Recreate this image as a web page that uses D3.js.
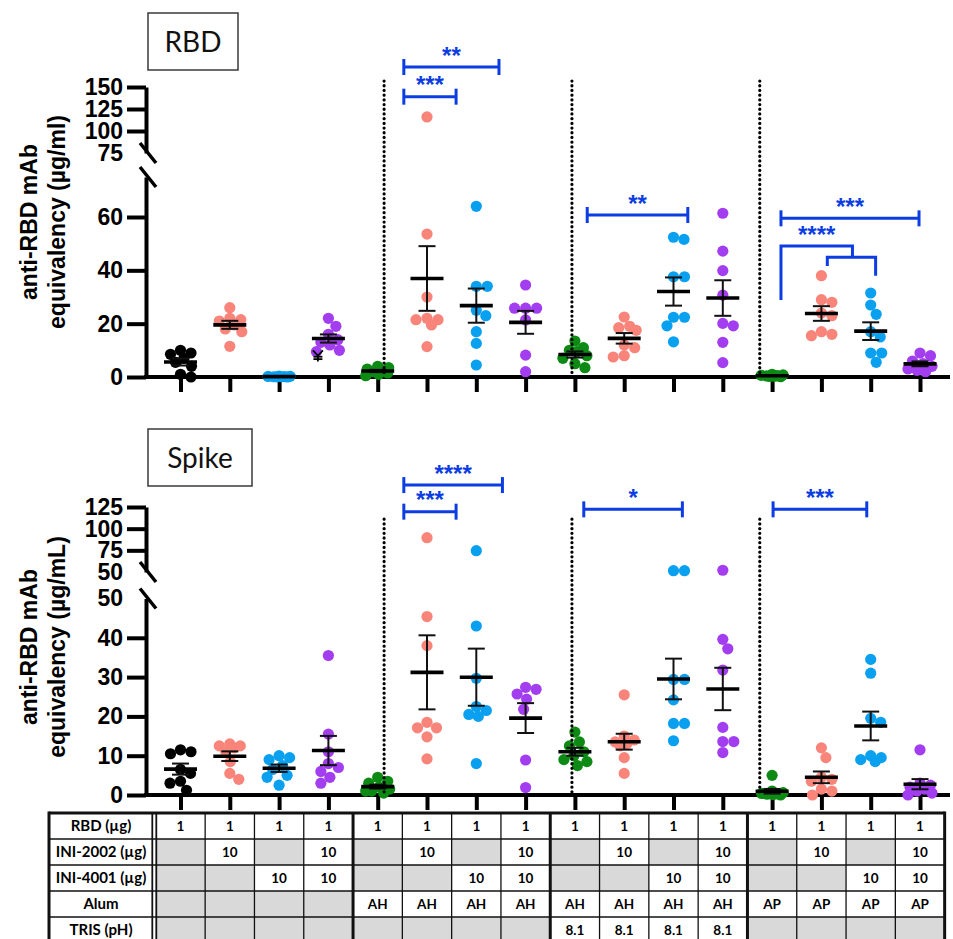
<!DOCTYPE html>
<html>
<head>
<meta charset="utf-8">
<script src="https://cdn.jsdelivr.net/npm/d3@7"></script>
<style>
  body { margin: 0; background: #fff; }
  svg { display: block; }
</style>
</head>
<body>
<svg id="chart" width="953" height="939"></svg>
<script>
// ---------------- data ----------------
// formulation table (one entry per group, left to right)
const rowLabels = ["RBD (µg)", "INI-2002 (µg)", "INI-4001 (µg)", "Alum", "TRIS (pH)"];
const rbdDose   = ["1","1","1","1","1","1","1","1","1","1","1","1","1","1","1","1"];
const ini2002   = ["","10","","10","","10","","10","","10","","10","","10","","10"];
const ini4001   = ["","","10","10","","","10","10","","","10","10","","","10","10"];
const alum      = ["","","","","AH","AH","AH","AH","AH","AH","AH","AH","AP","AP","AP","AP"];
const tris      = ["","","","","","","","","8.1","8.1","8.1","8.1","","","",""];

// anti-RBD mAb equivalency (µg/ml), RBD-coated plates
const rbdResponse = [
  [10, 9, 8.5, 7, 5.5, 4, 1, 0],
  [26, 22, 21.5, 21, 19.5, 18, 17, 11.5],
  [0.3, 0.25, 0.2, 0.15, 0.1, 0.1, 0.05, 0],
  [22, 19, 16, 14, 13, 12, 10, 9.5],
  [4, 3.5, 3, 2.5, 2, 1.5, 1, 0.5],
  [116, 53.6, 30, 22, 21.5, 21.5, 19.5, 11.4],
  [64, 34, 34, 25, 23, 17, 12.6, 4.5],
  [34.5, 25.8, 25.8, 25.8, 21.4, 8.2, 2],
  [13.5, 11, 10, 9.5, 8, 7, 5, 3.5],
  [22.5, 19, 18.5, 17.5, 12, 11, 8, 7.5],
  [52.4, 51.6, 37.6, 37.6, 22.4, 22.4, 19.2, 13.2],
  [61.4, 47.2, 39.9, 30.7, 20.1, 19.2, 13, 5.4],
  [1, 0.8, 0.6, 0.5, 0.4, 0.3, 0.2, 0.1],
  [38, 29, 28, 24, 23, 17, 16, 15.5],
  [31.5, 27, 23.5, 17, 15, 9, 9, 5.5],
  [9, 8, 6, 5, 4, 3, 2.5, 2]
];

// anti-RBD mAb equivalency (µg/mL), Spike-coated plates
const spikeResponse = [
  [11.5, 11, 10.5, 6.5, 5.5, 3.5, 3, 1.2],
  [13, 12.5, 12.5, 12, 11, 8.5, 5.5, 4],
  [10, 9.5, 9, 7.5, 6.5, 5, 4.5, 2.5],
  [35.5, 15.5, 11, 8, 7, 6, 4.5, 3],
  [4.5, 3.5, 3, 2, 1.5, 1, 1, 0.5],
  [89.6, 45.4, 38, 18.5, 17.1, 17.1, 14.8, 9.2],
  [74.6, 43, 29.7, 22.5, 21.5, 20.5, 20, 8],
  [27.4, 26.9, 25.7, 24.4, 21.8, 8.9, 1.9],
  [16, 13.5, 12.5, 11, 10, 9, 8.5, 7.5],
  [25.5, 15, 14, 13.5, 13, 12.5, 9.5, 5.5],
  [51.5, 51.5, 29.4, 29.4, 24.2, 18.2, 18.2, 13.8],
  [52, 39.6, 37.2, 31.8, 17.2, 13.6, 13.6, 10.8],
  [5, 1, 0.6, 0.4, 0.3, 0.2, 0.1, 0],
  [12, 9.5, 4.5, 4, 3.5, 1.5, 1, 0],
  [34.5, 31, 19.5, 18.5, 10, 9.5, 9, 8.5],
  [11.5, 3, 2.5, 2, 1.5, 1, 0.5, 0]
];

// axis ticks (lower / upper segment of the broken axis)
const rbdTicksLow = [0, 20, 40, 60];
const rbdTicksHigh = [75, 100, 125, 150];
const spikeTicksLow = [0, 10, 20, 30, 40, 50];
const spikeTicksHigh = [50, 75, 100, 125];

// significance brackets: group-position span, height in axis units, label
const rbdSig = [
  { from: 4.53, to: 5.59, at: 139, label: "***" },
  { from: 4.53, to: 6.46, at: 172.7, label: "**" },
  { from: 8.25, to: 10.29, at: 60.75, label: "**" },
  { from: 12.18, to: 14.98, at: 59.5, label: "***" }
];
const rbdElbow = { from: 12.18, base: 28.9, at: 49.1, join: 13.63,
                   subFrom: 13.12, subTo: 14.1, subAt: 44.9, subEnds: [41.6, 38], label: "****" };
const spikeSig = [
  { from: 4.53, to: 5.59, at: 119.6, label: "***" },
  { from: 4.53, to: 6.53, at: 150.3, label: "****" },
  { from: 8.18, to: 10.18, at: 122.3, label: "*" },
  { from: 12.02, to: 13.92, at: 122.3, label: "***" }
];
// group separators (dotted), in group-position units
const separators = [4.13, 7.94, 11.75];

// ---------------- drawing ----------------
const svg = d3.select("#chart");
const nGroups = rbdDose.length;
const FONT = "'Liberation Sans', Arial, sans-serif";
const TFONT = "Lato, 'Open Sans', sans-serif";
const SIG_BLUE = "#0b3de2";

const palette = { none: "#000000", alum: "#0c8a14", a: "#f8847a", b: "#0aa0f0", ab: "#a33ef0" };
const groupColor = d3.range(nGroups).map(i => {
  const a = ini2002[i] !== "", b = ini4001[i] !== "";
  if (a && b) return palette.ab;
  if (a) return palette.a;
  if (b) return palette.b;
  return alum[i] !== "" ? palette.alum : palette.none;
});

const x = d3.scaleLinear().domain([0, nGroups - 1]).range([180.5, 920]);
const AXIS_X = 146;
const R = 5.6;

function brokenScale(low, high) {
  return v => (v <= low.domain()[1] ? low(v) : high(v));
}

// simple beeswarm: spread points sideways where they would overlap
function swarm(vals, yOf, maxOff) {
  const placed = [];
  const D = 2 * R * 0.95;
  const cands = [0];
  for (let k = 0.5; k <= maxOff; k += 0.5) cands.push(k, -k);
  vals.slice().sort((a, b) => b - a).forEach(v => {
    const y = yOf(v);
    let best = 0, bestScore = -Infinity;
    for (const dx of cands) {
      let m = Infinity;
      for (const p of placed) m = Math.min(m, Math.hypot(p.dx - dx, p.y - y));
      if (m >= D) { best = dx; break; }
      if (m > bestScore) { bestScore = m; best = dx; }
    }
    placed.push({ v, y, dx: best });
  });
  return placed;
}

function drawPanel(cfg) {
  const g = svg.append("g");
  const yLow = d3.scaleLinear().domain(cfg.lowDomain).range(cfg.lowRange);
  const yHigh = d3.scaleLinear().domain(cfg.highDomain).range(cfg.highRange);
  const y = brokenScale(yLow, yHigh);
  const baseY = yLow(0);

  // title box
  const tb = g.append("g");
  tb.append("rect").attr("x", cfg.box[0]).attr("y", cfg.box[1])
    .attr("width", cfg.box[2]).attr("height", cfg.box[3])
    .attr("fill", "#fff").attr("stroke", "#3a3a3a").attr("stroke-width", 1.5);
  tb.append("text").attr("x", cfg.box[0] + cfg.box[2] / 2).attr("y", cfg.box[1] + cfg.box[3] / 2)
    .attr("dy", "0.36em").attr("text-anchor", "middle")
    .attr("font-family", TFONT).attr("font-size", 28).attr("fill", "#111").text(cfg.title);

  // y-axis title
  const yt = g.append("text").attr("transform", `translate(0,${cfg.labelCenter}) rotate(-90)`)
    .attr("text-anchor", "middle").attr("font-family", FONT).attr("font-weight", "bold")
    .attr("font-size", 23).attr("fill", "#000");
  yt.append("tspan").attr("x", 0).attr("y", 37).text("anti-RBD mAb");
  yt.append("tspan").attr("x", 0).attr("y", 65).text(cfg.unitLine);

  // y axes (two segments)
  function yAxis(scale, ticks, bare) {
    const ax = g.append("g").attr("transform", `translate(${AXIS_X},0)`)
      .call(d3.axisLeft(scale).tickValues(ticks).tickSize(19).tickSizeOuter(0).tickPadding(4)
        .tickFormat(d3.format("d")));
    ax.select(".domain").attr("stroke", "#000").attr("stroke-width", 4);
    ax.selectAll(".tick line").attr("stroke", "#000").attr("stroke-width", 4)
      .filter(d => bare.includes(d)).remove();
    ax.selectAll(".tick text").attr("font-family", FONT).attr("font-weight", "bold")
      .attr("font-size", 23).attr("fill", "#000");
  }
  yAxis(yLow, cfg.ticksLow, cfg.bareLow);
  yAxis(yHigh, cfg.ticksHigh, cfg.bareHigh);

  // break marks
  [yHigh(cfg.highDomain[0]), yLow(cfg.lowDomain[1])].forEach(by => {
    g.append("line").attr("x1", AXIS_X - 6).attr("y1", by - 10).attr("x2", AXIS_X + 10).attr("y2", by + 10)
      .attr("stroke", "#000").attr("stroke-width", 3.5);
  });

  // x axis
  g.append("line").attr("x1", AXIS_X - 2).attr("x2", 950).attr("y1", baseY).attr("y2", baseY)
    .attr("stroke", "#000").attr("stroke-width", 4);
  const xa = g.append("g").attr("transform", `translate(0,${baseY})`)
    .call(d3.axisBottom(x).tickValues(d3.range(nGroups)).tickSize(15).tickFormat(""));
  xa.select(".domain").remove();
  xa.selectAll(".tick line").attr("stroke", "#000").attr("stroke-width", 4);

  // points
  cfg.values.forEach((vals, i) => {
    const pts = swarm(vals, y, 12);
    g.append("g").selectAll("circle").data(pts).join("circle")
      .attr("cx", d => x(i) + d.dx).attr("cy", d => d.y).attr("r", R)
      .attr("fill", groupColor[i]);
  });

  // group separators
  separators.forEach(s => {
    g.append("line").attr("x1", x(s)).attr("x2", x(s))
      .attr("y1", y(cfg.sepTop)).attr("y2", baseY)
      .attr("stroke", "#000").attr("stroke-width", 3.2)
      .attr("stroke-dasharray", "0.1 4.6").attr("stroke-linecap", "round");
  });

  // mean ± SEM
  cfg.values.forEach((vals, i) => {
    const m = d3.mean(vals);
    const sem = d3.deviation(vals) / Math.sqrt(vals.length);
    const cx = x(i);
    const eg = g.append("g").attr("stroke", "#111");
    eg.append("line").attr("x1", cx).attr("x2", cx).attr("y1", y(m - sem)).attr("y2", y(m + sem)).attr("stroke-width", 2);
    [m - sem, m + sem].forEach(v => eg.append("line").attr("x1", cx - 8.5).attr("x2", cx + 8.5)
      .attr("y1", y(v)).attr("y2", y(v)).attr("stroke-width", 2));
    eg.append("line").attr("x1", cx - 16.5).attr("x2", cx + 16.5).attr("y1", y(m)).attr("y2", y(m))
      .attr("stroke", "#000").attr("stroke-width", 3.6);
  });

  if (cfg.extra) cfg.extra(g, y);

  // significance brackets
  const sg = g.append("g").attr("stroke", SIG_BLUE).attr("stroke-width", 3).attr("fill", "none");
  function star(cx, by, label) {
    g.append("text").attr("x", cx).attr("y", by).attr("text-anchor", "middle")
      .attr("font-family", FONT).attr("font-weight", "bold").attr("font-size", 24)
      .attr("fill", SIG_BLUE).text(label);
  }
  cfg.sig.forEach(s => {
    const by = y(s.at), x1 = x(s.from), x2 = x(s.to);
    sg.append("line").attr("x1", x1).attr("x2", x2).attr("y1", by).attr("y2", by);
    [x1, x2].forEach(xx => sg.append("line").attr("x1", xx).attr("x2", xx).attr("y1", by - 8).attr("y2", by + 8));
    star((x1 + x2) / 2, by - 3.5, s.label);
  });
  if (cfg.elbow) {
    const e = cfg.elbow;
    const top = y(e.at), sub = y(e.subAt);
    sg.append("path").attr("d", d3.line()([[x(e.from), y(e.base)], [x(e.from), top], [x(e.join), top], [x(e.join), sub]]));
    sg.append("path").attr("d", d3.line()([[x(e.subFrom), y(e.subEnds[0])], [x(e.subFrom), sub], [x(e.subTo), sub], [x(e.subTo), y(e.subEnds[1])]]));
    star((x(e.from) + x(e.join)) / 2, top - 3.5, e.label);
  }
}

drawPanel({
  title: "RBD", box: [148, 13, 90, 57], labelCenter: 222, unitLine: "equivalency (µg/ml)",
  lowDomain: [0, 75], lowRange: [377, 177], highDomain: [75, 150], highRange: [153, 87],
  ticksLow: rbdTicksLow, ticksHigh: rbdTicksHigh, bareLow: [], bareHigh: [75],
  values: rbdResponse, sepTop: 156.8, sig: rbdSig, elbow: rbdElbow,
  extra: (g, y) => {
    // small stray mean/SEM glyph beside the INI-2002 + INI-4001 group
    const cx = x(3) - 10.5;
    const mk = g.append("g").attr("stroke", "#000").attr("stroke-width", 1.8).attr("fill", "none");
    mk.append("path").attr("d", d3.line()([[cx - 5, y(10)], [cx, y(8)], [cx + 5, y(10)]]));
    mk.append("line").attr("x1", cx).attr("x2", cx).attr("y1", y(8)).attr("y2", y(5.8));
    [7.6, 6.7].forEach(v => mk.append("line").attr("x1", cx - 4.5).attr("x2", cx + 4.5).attr("y1", y(v)).attr("y2", y(v)));
  }
});

drawPanel({
  title: "Spike", box: [148, 429, 104, 57], labelCenter: 647, unitLine: "equivalency (µg/mL)",
  lowDomain: [0, 50], lowRange: [795, 598.5], highDomain: [50, 125], highRange: [572, 507],
  ticksLow: spikeTicksLow, ticksHigh: spikeTicksHigh, bareLow: [50], bareHigh: [50],
  values: spikeResponse, sepTop: 111, sig: spikeSig, elbow: null
});

// ---------------- formulation table ----------------
const tableRows = [rbdDose, ini2002, ini4001, alum, tris];
const T = { top: 813, rowH: 26, left: 49, labelRight: 156 };
const half = (x(1) - x(0)) / 2;
const tableRight = x(nGroups - 1) + half;
const tg = svg.append("g");

tableRows.forEach((row, r) => {
  const ry = T.top + r * T.rowH;
  tg.append("rect").attr("x", T.left).attr("y", ry).attr("width", T.labelRight - T.left).attr("height", T.rowH).attr("fill", "#fff");
  tg.append("text").attr("x", (T.left + 153) / 2).attr("y", ry + T.rowH / 2).attr("dy", "0.35em")
    .attr("text-anchor", "middle").attr("font-family", TFONT).attr("font-weight", "bold")
    .attr("font-size", 15).attr("fill", "#000").text(rowLabels[r]);
  row.forEach((val, i) => {
    tg.append("rect").attr("x", x(i) - half).attr("y", ry).attr("width", 2 * half).attr("height", T.rowH)
      .attr("fill", val === "" ? "#d9d9d9" : "#fff");
    if (val !== "") {
      tg.append("text").attr("x", x(i)).attr("y", ry + T.rowH / 2).attr("dy", "0.36em")
        .attr("text-anchor", "middle").attr("font-family", TFONT).attr("font-weight", "bold")
        .attr("font-size", 13.5).attr("fill", "#000").text(val);
    }
  });
});

// grid
d3.range(tableRows.length + 1).forEach(r => {
  const ry = T.top + r * T.rowH;
  tg.append("line").attr("x1", T.left).attr("x2", tableRight).attr("y1", ry).attr("y2", ry)
    .attr("stroke", "#111").attr("stroke-width", r === 0 ? 3 : 1.6);
});
const tableBottom = T.top + tableRows.length * T.rowH;
d3.range(1, nGroups).forEach(i => {
  const lx = x(i) - half;
  tg.append("line").attr("x1", lx).attr("x2", lx).attr("y1", T.top).attr("y2", tableBottom)
    .attr("stroke", "#111").attr("stroke-width", i % 4 === 0 ? 3 : 1.3);
});
[T.left, tableRight].forEach(lx => tg.append("line").attr("x1", lx).attr("x2", lx)
  .attr("y1", T.top - 1.5).attr("y2", tableBottom).attr("stroke", "#111").attr("stroke-width", 3));
[152.3, 156.3].forEach(lx => tg.append("line").attr("x1", lx).attr("x2", lx)
  .attr("y1", T.top).attr("y2", tableBottom).attr("stroke", "#111").attr("stroke-width", 1.8));
</script>
</body>
</html>
